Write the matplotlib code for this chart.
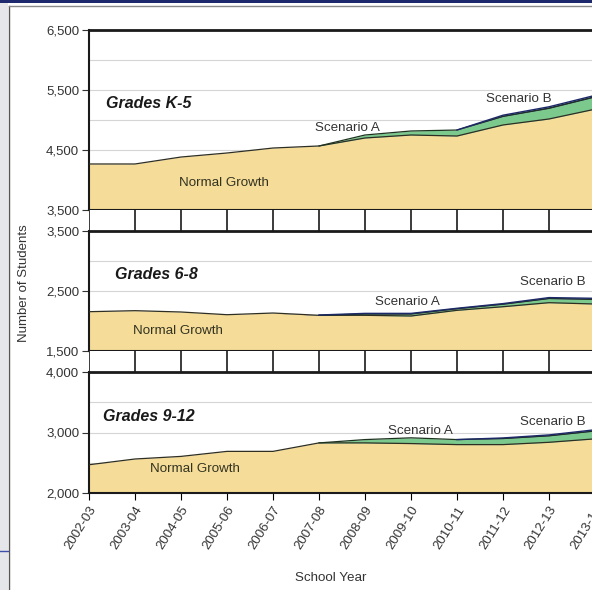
import matplotlib
matplotlib.use("Agg")
import matplotlib.pyplot as plt
from matplotlib.patches import Rectangle
from matplotlib.lines import Line2D
from matplotlib.ticker import FuncFormatter, MultipleLocator

plt.rcParams['font.family'] = ['Liberation Sans', 'DejaVu Sans']

years = ["2002-03", "2003-04", "2004-05", "2005-06", "2006-07", "2007-08",
         "2008-09", "2009-10", "2010-11", "2011-12", "2012-13", "2013-14"]

k5_normal = [4267, 4267, 4383, 4450, 4533, 4567, 4700, 4750, 4733, 4917, 5017, 5180]
k5_a      = [4267, 4267, 4383, 4450, 4533, 4567, 4750, 4817, 4833, 5060, 5195, 5385]
k5_b      = [4267, 4267, 4383, 4450, 4533, 4567, 4750, 4817, 4833, 5080, 5220, 5410]

g68_normal = [2155, 2172, 2150, 2105, 2133, 2095, 2095, 2083, 2178, 2238, 2305, 2283]
g68_a      = [2155, 2172, 2150, 2105, 2133, 2095, 2117, 2117, 2205, 2280, 2375, 2360]
g68_b      = [2155, 2172, 2150, 2105, 2133, 2100, 2127, 2127, 2212, 2290, 2390, 2378]

g912_normal = [2467, 2562, 2605, 2688, 2688, 2828, 2828, 2817, 2800, 2800, 2838, 2895]
g912_a      = [2467, 2562, 2605, 2688, 2688, 2828, 2883, 2912, 2883, 2900, 2945, 3025]
g912_b      = [2467, 2562, 2605, 2688, 2688, 2828, 2883, 2912, 2883, 2910, 2960, 3045]

panels = [
    dict(title="Grades K-5", normal=k5_normal, a=k5_a, b=k5_b,
         ylim=(3500, 6500), ticks=[3500, 4500, 5500, 6500],
         top=30, bottom=210, a_from=5, b_from=8,
         title_pos=(0.37, 5283), ng_pos=(2.93, 3950), a_pos=(5.62, 4867), b_pos=(9.35, 5350)),
    dict(title="Grades 6-8", normal=g68_normal, a=g68_a, b=g68_b,
         ylim=(1500, 3500), ticks=[1500, 2500, 3500],
         top=231, bottom=351, a_from=5, b_from=5,
         title_pos=(0.57, 2767), ng_pos=(1.93, 1833), a_pos=(6.93, 2317), b_pos=(10.09, 2650)),
    dict(title="Grades 9-12", normal=g912_normal, a=g912_a, b=g912_b,
         ylim=(2000, 4000), ticks=[2000, 3000, 4000],
         top=372, bottom=493, a_from=5, b_from=8,
         title_pos=(0.30, 3267), ng_pos=(2.30, 2400), a_pos=(7.2, 3033), b_pos=(10.09, 3167)),
]

W, H = 592, 590
fig = plt.figure(figsize=(W / 100, H / 100), dpi=100)
fig.patch.set_facecolor("white")

# screenshot decorations
fig.patches.append(Rectangle((0, 0), 8 / W, 1, transform=fig.transFigure,
                             facecolor="#e4e6ea", edgecolor="none", zorder=0))
fig.lines.append(Line2D([8.5 / W, 8.5 / W], [0, 1 - 6 / H], transform=fig.transFigure,
                        color="#555555", lw=1.0))
fig.patches.append(Rectangle((0, 1 - 3 / H), 1, 3 / H, transform=fig.transFigure,
                             facecolor="#1f2a6e", edgecolor="none"))
fig.lines.append(Line2D([8.5 / W, 1], [1 - 6 / H, 1 - 6 / H], transform=fig.transFigure,
                        color="#8a8a8a", lw=1.0))
fig.lines.append(Line2D([0, 8 / W], [1 - 551 / H, 1 - 551 / H], transform=fig.transFigure,
                        color="#3d4fa8", lw=1.0))

LEFT = 89
XMAX = 11.2
PX_PER = 46
axw = XMAX * PX_PER

TAN = "#f5dc98"
GREEN = "#7cc98e"
NAVY = "#1c2868"
DARK = "#2e2e22"
TXT = "#333333"

def fmt(v, pos):
    return f"{int(v):,}"

x = list(range(len(years)))

for i, p in enumerate(panels):
    ax = fig.add_axes([LEFT / W, 1 - p["bottom"] / H, axw / W, (p["bottom"] - p["top"]) / H])
    ax.set_xlim(0, XMAX)
    ax.set_ylim(*p["ylim"])
    ax.fill_between(x, p["ylim"][0], p["normal"], color=TAN, lw=0, zorder=2)
    ax.fill_between(x, p["normal"], p["a"], color=GREEN, lw=0, zorder=2)
    ax.fill_between(x, p["a"], p["b"], color=NAVY, lw=0, zorder=2)
    ax.plot(x, p["normal"], color=DARK, lw=0.9, zorder=3)
    af, bf = p["a_from"], p["b_from"]
    ax.plot(x[af:], p["a"][af:], color="#1d3320", lw=0.9, zorder=3)
    ax.plot(x[bf:], p["b"][bf:], color=NAVY, lw=1.0, zorder=3)
    ax.set_yticks(p["ticks"])
    ax.yaxis.set_major_formatter(FuncFormatter(fmt))
    ax.yaxis.set_minor_locator(MultipleLocator(500))
    ax.grid(axis="y", which="both", color="#d5d5d5", lw=0.8, zorder=1)
    ax.tick_params(axis="y", which="major", length=5, width=0.8, labelsize=9.5,
                   colors=TXT, pad=2)
    ax.tick_params(axis="y", which="minor", length=0)
    for s in ax.spines.values():
        s.set_color("#1a1a1a")
        s.set_linewidth(1.5)
    ax.spines["top"].set_linewidth(2.0)
    ax.set_xticks(x)
    if i < 2:
        ax.tick_params(axis="x", length=0, labelbottom=False)
    else:
        ax.set_xticklabels(years, rotation=58, ha="right", va="top",
                           rotation_mode="anchor", fontsize=9.5, color=TXT)
        ax.tick_params(axis="x", length=5, width=0.8, pad=3)
    ax.text(*p["title_pos"], p["title"], fontsize=11.5, fontweight="bold",
            fontstyle="italic", color="#1a1a1a", ha="left", va="center", zorder=4)
    ax.text(*p["ng_pos"], "Normal Growth", fontsize=9.6, color="#333322",
            ha="center", va="center", zorder=4)
    ax.text(*p["a_pos"], "Scenario A", fontsize=9.6, color=TXT,
            ha="center", va="center", zorder=4)
    ax.text(*p["b_pos"], "Scenario B", fontsize=9.6, color=TXT,
            ha="center", va="center", zorder=4)

    if i < 2:
        gtop = p["bottom"]
        gbot = panels[i + 1]["top"]
        g = fig.add_axes([LEFT / W, 1 - gbot / H, axw / W, (gbot - gtop) / H])
        g.set_xlim(0, XMAX)
        g.set_ylim(0, 1)
        g.set_facecolor("white")
        g.vlines(x, 0, 1, color="#1a1a1a", lw=1.2)
        g.set_xticks([])
        g.set_yticks([])
        for s in g.spines.values():
            s.set_visible(False)

fig.text(24 / W, 1 - 283 / H, "Number of Students", rotation=90, fontsize=9.5,
         color=TXT, ha="center", va="center")
fig.text(331 / W, 1 - 578 / H, "School Year", fontsize=9.6, color=TXT,
         ha="center", va="center")

fig.savefig("out.png", dpi=100)
